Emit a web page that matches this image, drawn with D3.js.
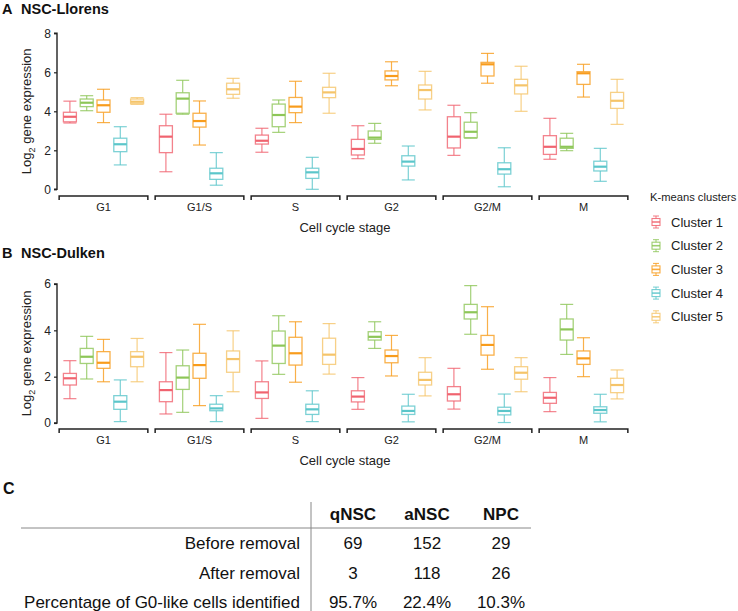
<!DOCTYPE html>
<html><head><meta charset="utf-8">
<script src="https://cdn.jsdelivr.net/npm/d3@7"></script>
<style>
html,body{margin:0;padding:0;background:#fff;}
svg{display:block;font-family:"Liberation Sans",Arial,sans-serif;}
</style></head>
<body>
<svg id="chart" width="738" height="611"></svg>
<script>
const stages = ["G1","G1/S","S","G2","G2/M","M"];
const clusters = ["Cluster 1","Cluster 2","Cluster 3","Cluster 4","Cluster 5"];
const colors = ["#F0636F","#8DC657","#F89C1C","#5BC6CA","#F5C469"];
// [low, q1, median, q3, high] per stage, per cluster
const llorens = [
  [[3.40,3.46,3.72,3.95,4.52],[4.03,4.24,4.44,4.63,4.80],[3.42,3.95,4.31,4.58,5.13],[1.25,1.93,2.31,2.62,3.21],[4.36,4.39,4.49,4.63,4.70]],
  [[0.90,1.88,2.70,3.26,3.85],[3.85,3.90,4.65,4.95,5.59],[2.27,3.19,3.50,3.90,4.53],[0.21,0.51,0.82,1.08,1.88],[4.67,4.87,5.13,5.44,5.69]],
  [[1.90,2.32,2.49,2.78,3.13],[2.92,3.21,3.81,4.37,4.58],[3.42,3.93,4.24,4.71,5.54],[0.00,0.56,0.87,1.08,1.64],[3.90,4.70,4.97,5.23,5.95]],
  [[1.57,1.76,2.07,2.56,3.26],[2.36,2.56,2.65,2.99,3.38],[5.31,5.61,5.81,6.07,6.54],[0.48,1.19,1.42,1.72,2.22],[4.07,4.63,5.09,5.35,6.05]],
  [[1.74,2.12,2.70,3.72,4.31],[2.62,2.65,2.95,3.44,3.93],[5.44,5.81,6.41,6.51,6.97],[0.13,0.78,1.03,1.36,2.13],[4.00,4.89,5.33,5.64,6.31]],
  [[1.54,1.79,2.18,2.75,3.64],[1.98,2.10,2.18,2.62,2.87],[4.73,5.38,5.95,6.03,6.41],[0.41,0.94,1.16,1.44,2.10],[3.33,4.15,4.54,4.97,5.64]]
];
const dulken = [
  [[1.05,1.64,1.93,2.14,2.69],[1.90,2.57,2.86,3.22,3.74],[1.78,2.36,2.60,3.08,3.61],[0.06,0.59,0.92,1.18,1.86],[1.78,2.43,2.86,3.08,3.65]],
  [[0.39,0.92,1.42,1.78,3.04],[0.46,1.45,1.96,2.47,3.15],[0.75,1.93,2.50,3.01,4.26],[0.06,0.53,0.63,0.81,1.18],[1.35,2.19,2.76,3.11,3.98]],
  [[0.20,1.06,1.32,1.78,2.68],[2.10,2.57,3.34,3.97,4.63],[1.76,2.50,3.01,3.70,4.37],[0.06,0.37,0.59,0.81,1.39],[2.11,2.53,2.95,3.66,4.29]],
  [[0.59,0.91,1.14,1.39,1.96],[3.22,3.58,3.72,3.94,4.37],[2.03,2.60,2.89,3.15,3.78],[0.05,0.37,0.52,0.73,1.24],[1.17,1.64,1.86,2.19,2.82]],
  [[0.60,0.95,1.24,1.57,2.36],[3.83,4.49,4.78,5.12,5.93],[2.32,2.93,3.37,3.78,5.02],[0.02,0.35,0.52,0.68,1.25],[1.35,1.89,2.17,2.43,2.82]],
  [[0.49,0.85,1.09,1.32,1.96],[2.96,3.58,4.04,4.49,5.12],[2.00,2.53,2.79,3.11,3.68],[0.05,0.42,0.56,0.70,1.24],[1.04,1.31,1.64,1.93,2.29]]
];
const ticksA = [0,2,4,6,8];
const ticksB = [0,2,4,6];
const tableCols = ["qNSC","aNSC","NPC"];
const tableRows = ["Before removal","After removal","Percentage of G0-like cells identified"];
const tableVals = [["69","152","29"],["3","118","26"],["95.7%","22.4%","10.3%"]];

const svg = d3.select("#chart");
const axisX = 57;
const x = d3.scaleBand().domain(stages).range([55.5, 631.5]).paddingInner(0.076).paddingOuter(0.038);
const xs = d3.scaleBand().domain(clusters).range([0, x.bandwidth()]).paddingInner(0).paddingOuter(0.14);
const color = d3.scaleOrdinal().domain(clusters).range(colors);
const boxW = 13;

function panel(label, title, data, domainMax, ticks, yTop, yBot, bracketY, titleY) {
  const y = d3.scaleLinear().domain([0, domainMax]).range([yBot, yTop]);
  const g = svg.append("g");
  g.append("text").attr("x", 2).attr("y", titleY).attr("font-size", 14.5).attr("font-weight", "bold")
    .attr("fill", "#111").text(label);
  g.append("text").attr("x", 21).attr("y", titleY).attr("font-size", 14.5).attr("font-weight", "bold")
    .attr("fill", "#111").text(title);
  // y axis
  const ax = g.append("g").attr("transform", `translate(${axisX},0)`)
    .call(d3.axisLeft(y).tickValues(ticks).tickFormat(d3.format("d")).tickSize(3).tickPadding(3));
  ax.select(".domain").attr("stroke", "#222").attr("stroke-width", 1.4).attr("d", `M-3,${y(0)}H0V${y(domainMax)}H-3`);
  ax.selectAll(".tick line").attr("stroke", "#222").attr("stroke-width", 1.2);
  ax.selectAll(".tick text").attr("font-size", 12).attr("fill", "#222").attr("font-family", "Liberation Sans, Arial, sans-serif");
  // y title
  const yt = g.append("text").attr("transform", `translate(31,${(y(0)+y(domainMax))/2}) rotate(-90)`)
    .attr("text-anchor", "middle").attr("font-size", 13).attr("fill", "#222");
  yt.append("tspan").text("Log");
  yt.append("tspan").attr("font-size", 9).attr("dy", 4).text("2");
  yt.append("tspan").attr("dy", -4).text(" gene expression");
  // brackets
  const br = g.append("g");
  stages.forEach(s => {
    const x0 = x(s), x1 = x(s) + x.bandwidth();
    br.append("path").attr("d", `M${x0},${bracketY+4}V${bracketY}H${x1}V${bracketY+4}`)
      .attr("fill", "none").attr("stroke", "#222").attr("stroke-width", 1.5);
    br.append("text").attr("x", (x0+x1)/2).attr("y", bracketY + 15).attr("text-anchor", "middle")
      .attr("font-size", 11).attr("fill", "#222").text(s);
  });
  g.append("text").attr("x", 345).attr("y", bracketY + 36).attr("text-anchor", "middle")
    .attr("font-size", 13).attr("fill", "#222").text("Cell cycle stage");
  // boxes
  stages.forEach((s, si) => {
    clusters.forEach((c, ci) => {
      const d = data[si][ci];
      const cx = x(s) + xs(c) + xs.bandwidth()/2;
      const col = color(c);
      const bg = g.append("g").attr("stroke", col).attr("fill", "none");
      bg.append("line").attr("x1", cx).attr("x2", cx).attr("y1", y(d[4])).attr("y2", y(d[3]))
        .attr("stroke-width", 1.2).attr("stroke-opacity", 0.8);
      bg.append("line").attr("x1", cx).attr("x2", cx).attr("y1", y(d[1])).attr("y2", y(d[0]))
        .attr("stroke-width", 1.2).attr("stroke-opacity", 0.8);
      bg.append("line").attr("x1", cx - boxW/2).attr("x2", cx + boxW/2).attr("y1", y(d[4])).attr("y2", y(d[4]))
        .attr("stroke-width", 1.2).attr("stroke-opacity", 0.8);
      bg.append("line").attr("x1", cx - boxW/2).attr("x2", cx + boxW/2).attr("y1", y(d[0])).attr("y2", y(d[0]))
        .attr("stroke-width", 1.2).attr("stroke-opacity", 0.8);
      bg.append("rect").attr("x", cx - boxW/2).attr("y", y(d[3])).attr("width", boxW)
        .attr("height", Math.max(0.5, y(d[1]) - y(d[3])))
        .attr("stroke-width", 1.3).attr("stroke-opacity", 0.8).attr("fill", "#fff");
      bg.append("line").attr("x1", cx - boxW/2).attr("x2", cx + boxW/2).attr("y1", y(d[2])).attr("y2", y(d[2]))
        .attr("stroke-width", 2.2);
    });
  });
}

panel("A", "NSC-Llorens", llorens, 8, ticksA, 33.3, 189.3, 196, 14);
panel("B", "NSC-Dulken", dulken, 6, ticksB, 284, 423, 429, 258);

// legend
const lg = svg.append("g");
lg.append("text").attr("x", 650).attr("y", 201).attr("font-size", 11.2).attr("fill", "#222").text("K-means clusters");
clusters.forEach((c, i) => {
  const cy = 222 + i * 23.7;
  const col = color(c);
  const ig = lg.append("g").attr("stroke", col).attr("fill", "none").attr("stroke-opacity", 0.85);
  ig.append("line").attr("x1", 656).attr("x2", 656).attr("y1", cy - 6).attr("y2", cy + 6).attr("stroke-width", 1);
  ig.append("line").attr("x1", 653).attr("x2", 659).attr("y1", cy - 6).attr("y2", cy - 6).attr("stroke-width", 1);
  ig.append("line").attr("x1", 653).attr("x2", 659).attr("y1", cy + 6).attr("y2", cy + 6).attr("stroke-width", 1);
  ig.append("rect").attr("x", 652).attr("y", cy - 3.5).attr("width", 8).attr("height", 7).attr("fill", "#fff").attr("stroke-width", 1.1);
  ig.append("line").attr("x1", 652).attr("x2", 660).attr("y1", cy).attr("y2", cy).attr("stroke-width", 1.6);
  lg.append("text").attr("x", 671).attr("y", cy + 4.5).attr("font-size", 13).attr("fill", "#222").text(c);
});

// table C
const tf = '"Liberation Sans Narrow","Arial Narrow","Liberation Sans",Arial,sans-serif';
const tg = svg.append("g").attr("font-family", tf).attr("fill", "#111");
tg.append("text").attr("x", 3).attr("y", 494).attr("font-size", 16).attr("font-weight", "bold")
  .attr("font-family", '"Liberation Sans",Arial,sans-serif').text("C");
const colX = d3.scalePoint().domain(tableCols).range([353, 501]);
const rowY = d3.scalePoint().domain(tableRows).range([549, 608]);
tableCols.forEach(c => tg.append("text").attr("x", colX(c)).attr("y", 520).attr("text-anchor", "middle")
  .attr("font-size", 17).attr("font-weight", "bold").text(c));
tg.append("line").attr("x1", 21).attr("x2", 531).attr("y1", 528).attr("y2", 528).attr("stroke", "#888").attr("stroke-width", 1);
tg.append("line").attr("x1", 311).attr("x2", 311).attr("y1", 502).attr("y2", 611).attr("stroke", "#888").attr("stroke-width", 1);
tableRows.forEach((r, ri) => {
  tg.append("text").attr("x", 300).attr("y", rowY(r)).attr("text-anchor", "end").attr("font-size", 17).text(r);
  tableCols.forEach((c, ci) => tg.append("text").attr("x", colX(c)).attr("y", rowY(r)).attr("text-anchor", "middle")
    .attr("font-size", 17).text(tableVals[ri][ci]));
});
</script>
</body></html>
